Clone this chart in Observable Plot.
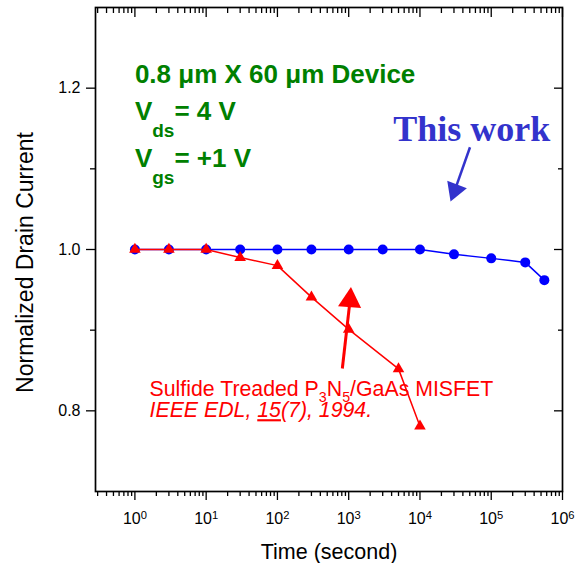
<!DOCTYPE html>
<html><head><meta charset="utf-8">
<script src="https://cdn.jsdelivr.net/npm/d3@7"></script>
<script src="https://cdn.jsdelivr.net/npm/@observablehq/plot@0.6"></script>
<style>body{margin:0;background:#fff;}</style>
</head><body><div id="chart"></div>
<script>
// ---- data ----
const times = [1, 3, 10, 30, 100, 300, 1000, 3000, 10000, 30000, 100000, 300000, 556000];
const thisWork = [1.0, 1.0, 1.0, 1.0, 1.0, 1.0, 1.0, 1.0, 1.0, 0.994, 0.989, 0.984, 0.962];
const refTimes = [1, 3, 10, 30, 100, 300, 1000, 5000, 10000];
const refCurrent = [1.0, 1.0, 1.0, 0.99, 0.98, 0.941, 0.901, 0.852, 0.781];
const xMajor = [1, 10, 100, 1e3, 1e4, 1e5, 1e6];
const xExponents = ["0", "1", "2", "3", "4", "5", "6"];
const xMultipliers = [2, 3, 4, 5, 6, 7, 8, 9];
const xDecades = [0.1, 1, 10, 100, 1e3, 1e4, 1e5];
const yMajor = [0.8, 1.0, 1.2];
const yMinor = [0.9, 1.1];
const deviceText = ["0.8 μm X 60 μm Device"];
const vdsText = ["V$_{ds}= 4 V"];
const vgsText = ["V$_{gs}= +1 V"];
const thisWorkText = ["This work"];
const refText1 = ["Sulfide Treaded P_{3}N_{5}/GaAs MISFET"];
const refText2 = ["IEEE EDL, ~{15}(7), 1994."];
const xLabel = ["Time (second)"];
const yLabel = ["Normalized Drain Current"];

const blue = times.map((t, i) => ({t, v: thisWork[i]}));
const red = refTimes.map((t, i) => ({t, v: refCurrent[i]}));
const xMinor = xDecades.flatMap(d => xMultipliers.map(m => m * d)).filter(v => v >= 0.28 && v <= 1e6);

const blank = () => "";
const sans = "'Liberation Sans', Arial, sans-serif";

const chart = Plot.plot({
  width: 577,
  height: 563,
  marginLeft: 95,
  marginRight: 15,
  marginTop: 7,
  marginBottom: 72,
  style: {fontFamily: sans, background: "white", overflow: "visible"},
  x: {type: "log", domain: [0.28, 1e6], label: null},
  y: {domain: [0.7, 1.3], label: null},
  marks: [
    // ticks
    Plot.axisX(xMajor, {anchor: "bottom", tickSize: 9, tickFormat: blank, label: null, strokeWidth: 1.3}),
    Plot.axisX(xMinor, {anchor: "bottom", tickSize: 5, tickFormat: blank, label: null, strokeWidth: 1.3}),
    Plot.axisX(xMajor, {anchor: "top", tickSize: -9, tickFormat: blank, label: null, strokeWidth: 1.3}),
    Plot.axisX(xMinor, {anchor: "top", tickSize: -5, tickFormat: blank, label: null, strokeWidth: 1.3}),
    Plot.axisY(yMajor, {anchor: "left", tickSize: 9, tickPadding: 6, tickFormat: d3.format(".1f"), fontSize: 16, label: null, strokeWidth: 1.3}),
    Plot.axisY(yMinor, {anchor: "left", tickSize: 5, tickFormat: blank, label: null, strokeWidth: 1.3}),
    Plot.axisY(yMajor, {anchor: "right", tickSize: -9, tickFormat: blank, label: null, strokeWidth: 1.3}),
    Plot.axisY(yMinor, {anchor: "right", tickSize: -5, tickFormat: blank, label: null, strokeWidth: 1.3}),
    Plot.frame({stroke: "black", strokeWidth: 1.7}),
    // x tick labels
    Plot.text(xMajor, {x: d => d, frameAnchor: "bottom", dy: 32, lineAnchor: "bottom", fontSize: 16,
      text: (d, i) => "10^{" + xExponents[i] + "}"}),
    // axis titles
    Plot.text(xLabel, {frameAnchor: "bottom", dy: 67, lineAnchor: "bottom", textAnchor: "middle", fontSize: 21.5, text: d => d}),
    Plot.text(yLabel, {frameAnchor: "left", dx: -70, dy: 13, rotate: -90, textAnchor: "middle", lineAnchor: "middle", fontSize: 23, text: d => d}),
    // series
    Plot.line(blue, {x: "t", y: "v", stroke: "#0000ff", strokeWidth: 1.5}),
    Plot.dot(blue, {x: "t", y: "v", r: 5, fill: "#0000ff", stroke: "none"}),
    Plot.line(red, {x: "t", y: "v", stroke: "#ff0000", strokeWidth: 1.5}),
    Plot.dot(red, {x: "t", y: "v", r: 4.3, symbol: "triangle", fill: "#ff0000", stroke: "none"}),
    // green annotation
    Plot.text(deviceText, {x: 1, y: 1.207, text: d => d, textAnchor: "start", lineAnchor: "bottom", fontSize: 26, fontWeight: "bold", fill: "#008000"}),
    Plot.text(vdsText, {x: 1, y: 1.160, text: d => d, textAnchor: "start", lineAnchor: "bottom", fontSize: 26, fontWeight: "bold", fill: "#008000"}),
    Plot.text(vgsText, {x: 1, y: 1.1017, text: d => d, textAnchor: "start", lineAnchor: "bottom", fontSize: 26, fontWeight: "bold", fill: "#008000"}),
    // This work
    Plot.text(thisWorkText, {x: 53200, y: 1.135, text: d => d, textAnchor: "middle", lineAnchor: "bottom", fontSize: 36, fontWeight: "bold", fontFamily: "'Liberation Serif', 'Times New Roman', serif", fill: "#3333cc"}),
    Plot.link([0], {x1: 50350, y1: 1.1268, x2: 30900, y2: 1.0735, stroke: "#3333cc", strokeWidth: 2.5}),
    Plot.dot([0], {x: 30900, y: 1.0735, symbol: "triangle", r: 7.8, rotate: 201, fill: "#3333cc", stroke: "none"}),
    // reference annotation
    Plot.text(refText1, {x: 1.604, y: 0.8178, text: d => d, textAnchor: "start", lineAnchor: "bottom", fontSize: 21.3, fill: "#ff0000"}),
    Plot.text(refText2, {x: 1.604, y: 0.7921, text: d => d, textAnchor: "start", lineAnchor: "bottom", fontSize: 21.3, fontStyle: "italic", fill: "#ff0000"}),
    Plot.link([0], {x1: 814, y1: 0.8525, x2: 1044, y2: 0.9369, stroke: "#ff0000", strokeWidth: 3}),
    Plot.dot([0], {x: 1044, y: 0.9369, symbol: "triangle", r: 8.6, rotate: 4, fill: "#ff0000", stroke: "none"})
  ]
});
document.getElementById("chart").appendChild(chart);

// rich-text markup: _{sub}, $_{deep sub}, ^{sup}, ~{underline}
d3.select(chart).selectAll("text").each(function () {
  const s = this.textContent;
  const re = /(\$_|_|\^|~)\{([^}]*)\}/g;
  if (!/(\$_|_|\^|~)\{/.test(s)) return;
  const F = parseFloat(getComputedStyle(this).fontSize) || 16;
  const parts = [];
  let last = 0, m;
  while ((m = re.exec(s))) {
    if (m.index > last) parts.push({t: s.slice(last, m.index), k: ""});
    parts.push({t: m[2], k: m[1]});
    last = re.lastIndex;
  }
  if (last < s.length) parts.push({t: s.slice(last), k: ""});
  const sel = d3.select(this);
  sel.text(null);
  let shift = 0;
  for (const p of parts) {
    let target = 0, size = null;
    if (p.k === "_") { target = 0.27 * F; size = 0.67 * F; }
    else if (p.k === "$_") { target = 0.64 * F; size = 0.73 * F; }
    else if (p.k === "^") { target = -0.3 * F; size = 0.7 * F; }
    const ts = sel.append("tspan").text(p.t);
    if (target - shift !== 0) ts.attr("dy", target - shift);
    shift = target;
    if (size) ts.attr("font-size", size);
    if (p.k === "~") ts.attr("text-decoration", "underline");
  }
});
</script>
</body></html>
